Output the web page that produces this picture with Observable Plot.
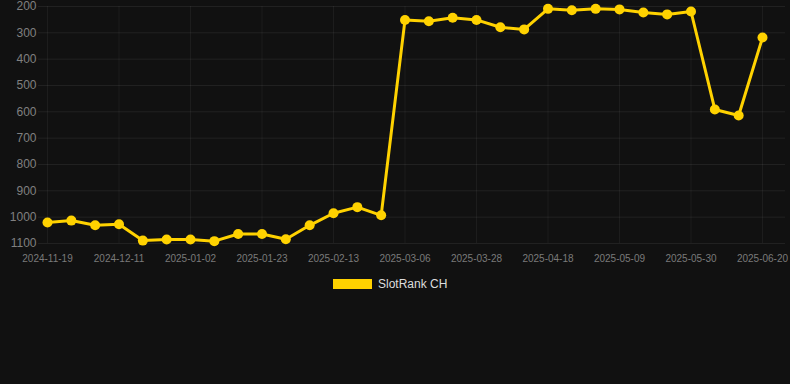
<!DOCTYPE html>
<html>
<head>
<meta charset="utf-8">
<script src="https://cdn.jsdelivr.net/npm/d3@7"></script>
<script src="https://cdn.jsdelivr.net/npm/@observablehq/plot@0.6"></script>
<style>
  html, body { margin: 0; padding: 0; background: #111111; width: 790px; height: 384px; overflow: hidden; }
  #chart svg { display: block; }
  .legend { display: flex; justify-content: flex-start; align-items: center; height: 28px; font-family: "Liberation Sans", Arial, sans-serif; font-size: 12px; color: #dddddd; padding-left: 333px; }
  .legend .sw { width: 39px; height: 10px; background: #FFD200; margin-right: 6px; }
</style>
</head>
<body>
<div id="chart"></div>
<div class="legend"><span class="sw"></span><span>SlotRank CH</span></div>
<script>
const dates = [
  "2024-11-19","2024-11-26","2024-12-03","2024-12-11","2024-12-18","2024-12-25",
  "2025-01-02","2025-01-09","2025-01-16","2025-01-23","2025-01-30","2025-02-06",
  "2025-02-13","2025-02-20","2025-02-27","2025-03-06","2025-03-13","2025-03-20",
  "2025-03-28","2025-04-04","2025-04-11","2025-04-18","2025-04-25","2025-05-02",
  "2025-05-09","2025-05-16","2025-05-23","2025-05-30","2025-06-06","2025-06-13",
  "2025-06-20"
];
const ranks = [
  1020, 1013, 1031, 1027, 1089, 1085,
  1085, 1091, 1064, 1064, 1084, 1031,
  985, 962, 993, 251, 256, 243,
  251, 279, 287, 209, 214, 209,
  211, 223, 230, 219, 591, 614,
  318
];
const xTickLabels = [
  "2024-11-19","2024-12-11","2025-01-02","2025-01-23","2025-02-13","2025-03-06",
  "2025-03-28","2025-04-18","2025-05-09","2025-05-30","2025-06-20"
];
const yTicks = [200, 300, 400, 500, 600, 700, 800, 900, 1000, 1100];
const seriesName = "SlotRank CH";

const data = dates.map((d, i) => ({date: d, rank: ranks[i]}));
const color = "#FFD200";

const chart = Plot.plot({
  width: 790,
  height: 270,
  marginTop: 6,
  marginLeft: 38,
  marginRight: 5,
  marginBottom: 27,
  style: { background: "#111111", color: "#888888", fontFamily: "'Liberation Sans', Arial, sans-serif", overflow: "visible" },
  x: { type: "point", domain: dates, range: [47, 762], padding: 0, round: false },
  y: { domain: [200, 1100], range: [6, 243] },
  marks: [
    Plot.gridY(yTicks, { stroke: "#ffffff", strokeOpacity: 0.07 }),
    Plot.gridX(xTickLabels, { stroke: "#ffffff", strokeOpacity: 0.05 }),
    Plot.axisY(yTicks, { tickSize: 0, tickPadding: 2, fontSize: 12, fill: "#808080", label: null, tickFormat: d => String(d) }),
    Plot.axisX(xTickLabels, { tickSize: 0, tickPadding: 11, fontSize: 10, fill: "#7a7a7a", label: null }),
    Plot.line(data, { x: "date", y: "rank", stroke: color, strokeWidth: 3, curve: "linear" }),
    Plot.dot(data, { x: "date", y: "rank", r: 5, fill: color, stroke: "none" })
  ]
});
document.getElementById("chart").appendChild(chart);
</script>
</body>
</html>
